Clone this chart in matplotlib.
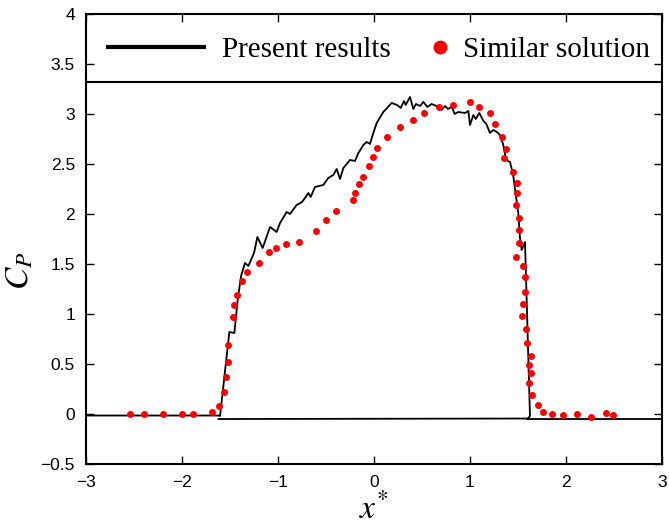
import numpy as np
import matplotlib
matplotlib.use('Agg')
import matplotlib.pyplot as plt
from matplotlib.ticker import FuncFormatter
from matplotlib.lines import Line2D

plt.rcParams['mathtext.fontset'] = 'stix'

# Present results (closed contour: upper curve, then lower side back)
present_x = [-3.0, -1.62, -1.604, -1.507, -1.455, -1.42, -1.385, -1.344, -1.309, -1.25,
             -1.215, -1.16, -1.083, -1.014, -0.979, -0.91, -0.875, -0.806, -0.75, -0.719,
             -0.684, -0.66, -0.615, -0.528, -0.476, -0.424, -0.389, -0.354, -0.319, -0.25,
             -0.198, -0.163, -0.111, -0.076, -0.042, -0.007, 0.028, 0.097, 0.184, 0.24,
             0.278, 0.3125, 0.33, 0.375, 0.41, 0.4375, 0.48, 0.514, 0.556, 0.60,
             0.65, 0.705, 0.74, 0.77, 0.81, 0.84, 0.878, 0.948, 0.983, 1.0,
             1.035, 1.06, 1.097, 1.14, 1.17, 1.208, 1.243, 1.28, 1.3125, 1.347,
             1.375, 1.417, 1.45, 1.47, 1.503, 1.52, 1.538, 1.573, 1.625, 1.60,
             -1.62, np.nan, 1.60, 3.0]
present_y = [-0.015, -0.015, -0.02, 0.82, 0.81, 1.14, 1.38, 1.51, 1.48, 1.61,
             1.77, 1.66, 1.87, 1.82, 1.91, 2.02, 2.00, 2.09, 2.12, 2.16,
             2.21, 2.17, 2.27, 2.29, 2.36, 2.39, 2.45, 2.35, 2.46, 2.54,
             2.53, 2.61, 2.69, 2.72, 2.70, 2.81, 2.91, 3.02, 3.11, 3.09,
             3.06, 3.13, 3.09, 3.17, 3.05, 3.10, 3.08, 3.12, 3.07, 3.10,
             3.08, 3.04, 3.08, 3.05, 3.07, 3.00, 3.02, 3.01, 3.03, 2.89,
             2.99, 2.95, 3.01, 2.93, 2.90, 2.81, 2.84, 2.82, 2.79, 2.69,
             2.54, 2.52, 2.39, 2.24, 2.01, 1.77, 1.64, 1.72, -0.02, -0.045,
             -0.05, np.nan, -0.05, -0.05]

# Similar solution (red dots)
similar_x = [-2.545, -2.398, -2.197, -2.0, -1.885, -1.689, -1.61, -1.5625, -1.54, -1.52,
             -1.52, -1.465, -1.458, -1.43, -1.378, -1.32, -1.198, -1.09, -1.02, -0.917,
             -0.778, -0.604, -0.5, -0.399, -0.222, -0.198, -0.153, -0.111, -0.056, -0.014,
             0.028, 0.132, 0.271, 0.41, 0.517, 0.674, 0.826, 1.0, 1.094, 1.21,
             1.264, 1.33, 1.375, 1.358, 1.444, 1.486, 1.493, 1.479, 1.51, 1.507,
             1.51, 1.479, 1.549, 1.573, 1.573, 1.556, 1.545, 1.583, 1.59, 1.632,
             1.618, 1.632, 1.618, 1.65, 1.708, 1.76, 1.857, 1.97, 2.11, 2.26,
             2.42, 2.49]
similar_y = [0.0, 0.0, 0.0, 0.0, 0.0, 0.02, 0.08, 0.22, 0.37, 0.52,
             0.69, 0.97, 1.09, 1.19, 1.33, 1.42, 1.51, 1.62, 1.66, 1.70,
             1.72, 1.83, 1.94, 2.03, 2.14, 2.21, 2.30, 2.37, 2.48, 2.57,
             2.66, 2.77, 2.87, 2.94, 3.01, 3.07, 3.09, 3.12, 3.07, 3.01,
             2.90, 2.77, 2.65, 2.56, 2.42, 2.31, 2.21, 2.09, 1.96, 1.84,
             1.71, 1.57, 1.48, 1.37, 1.22, 1.10, 0.98, 0.85, 0.71, 0.58,
             0.49, 0.41, 0.31, 0.19, 0.09, 0.02, 0.0, -0.01, 0.0, -0.03,
             0.01, -0.01]

legend_top = 3.32  # legend box bottom edge inside the axes

fig = plt.figure(figsize=(6.69, 5.27), dpi=100)
ax = fig.add_axes([0.1286, 0.1195, 0.8609, 0.854])

line, = ax.plot(present_x, present_y, color='black', lw=1.3)
dots, = ax.plot(similar_x, similar_y, 'o', color='red', ms=5, mec='none')
ax.axhline(legend_top, color='black', lw=1.5)

ax.set_xlim(-3, 3)
ax.set_ylim(-0.5, 4)
ax.set_xticks(np.arange(-3, 4, 1))
ax.set_yticks(np.arange(-0.5, 4.5, 0.5))

fmt = FuncFormatter(lambda v, p: ('%g' % v).replace('-', '\u2212'))
ax.xaxis.set_major_formatter(fmt)
ax.yaxis.set_major_formatter(fmt)
ax.tick_params(direction='in', top=True, right=True, length=6, width=1,
               labelsize=12.5, pad=8)
for lab in ax.get_xticklabels() + ax.get_yticklabels():
    lab.set_fontfamily('Liberation Sans')
for sp in ax.spines.values():
    sp.set_linewidth(1.5)

ax.set_xlabel(r'$x^{*}$', fontsize=24)
ax.xaxis.set_label_coords(0.5, -0.062)
ax.set_ylabel(r'$C_P$', fontsize=24)
ax.yaxis.set_label_coords(-0.088, 0.43)

serif = {'family': 'Liberation Serif', 'size': 21}
leg1 = ax.legend([Line2D([], [], color='black', lw=3)], ['Present results'],
                 loc='center left', bbox_to_anchor=(0.038, 0.92), frameon=False,
                 prop=serif, handlelength=3.3, handletextpad=0.6,
                 borderpad=0, borderaxespad=0)
ax.add_artist(leg1)
ax.legend([Line2D([], [], ls='none', marker='o', color='red', ms=10, mec='none')],
          ['Similar solution'], loc='center left', bbox_to_anchor=(0.589, 0.92),
          frameon=False, prop=serif, handlelength=1.0, handletextpad=0.3,
          borderpad=0, borderaxespad=0)

fig.savefig('out.png', dpi=100)
